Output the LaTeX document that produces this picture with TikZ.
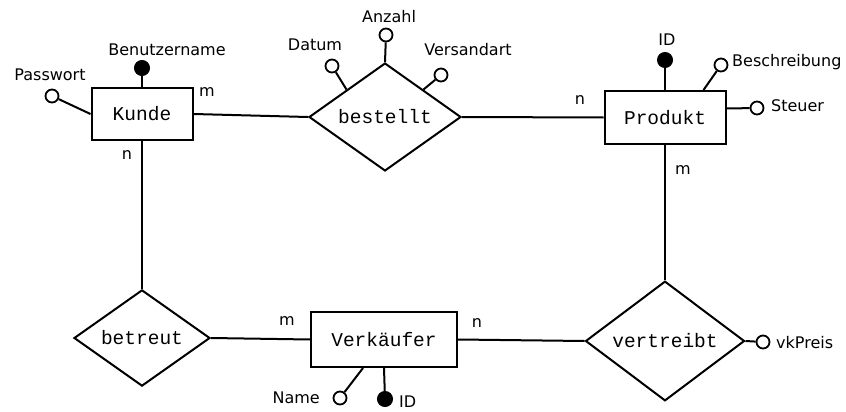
\documentclass[tikz,border=0pt]{standalone}
\usepackage{fontspec}
\setmainfont{DejaVu Sans}
\newfontfamily\ermono{Liberation Mono}
\usetikzlibrary{shapes.geometric}
\tikzset{
  entity/.style={draw, line width=2pt, rectangle, inner sep=0pt, font=\ermono\fontsize{19.5}{22}\selectfont},
  relation/.style={draw, line width=2pt, diamond, inner sep=0pt, font=\ermono\fontsize{19.5}{22}\selectfont},
  attr/.style={draw, line width=1.8pt, circle, fill=white, minimum size=13pt, inner sep=0pt},
  keyattr/.style={draw, line width=1pt, circle, fill=black, minimum size=15pt, inner sep=0pt},
  lbl/.style={font=\fontsize{16}{18}\selectfont, inner sep=0pt},
  card/.style={font=\fontsize{16}{18}\selectfont, inner sep=0pt},
  conn/.style={line width=2pt}
}
\begin{document}
\begin{tikzpicture}[x=1pt,y=-1pt]
\useasboundingbox (0,0) rectangle (846,412);
% entities
\node[entity, minimum width=101pt, minimum height=52pt] (kunde) at (142,114) {Kunde};
\node[entity, minimum width=121pt, minimum height=53pt] (produkt) at (665,117.5) {Produkt};
\node[entity, minimum width=146pt, minimum height=55pt] (verk) at (384,339.5) {Verkäufer};
% relations
\node[relation, minimum width=152pt, minimum height=90pt] (bestellt) at (385,117) {bestellt};
\node[relation, minimum width=136pt, minimum height=83pt] (betreut) at (142,338) {betreut};
\node[relation, minimum width=159pt, minimum height=97pt] (vertreibt) at (665,341) {vertreibt};
% connectors
\draw[conn] (kunde.east) -- (bestellt.west);
\draw[conn] (bestellt.east) -- (produkt.west);
\draw[conn] (kunde.south) -- (betreut.north);
\draw[conn] (produkt.south) -- (vertreibt.north);
\draw[conn] (betreut.east) -- (verk.west);
\draw[conn] (verk.east) -- (vertreibt.west);
% attributes
\node[attr] (passwort) at (52,96) {};
\node[keyattr] (benutzer) at (142,68) {};
\node[attr] (datum) at (332,66) {};
\node[attr] (anzahl) at (386,35) {};
\node[attr] (versand) at (441,75) {};
\node[keyattr] (pid) at (665,60) {};
\node[attr] (beschr) at (721,65) {};
\node[attr] (steuer) at (757,108) {};
\node[attr] (vkpreis) at (763,342) {};
\node[attr] (name) at (340,398) {};
\node[keyattr] (vid) at (385,399) {};
\coordinate (beschrAt) at ([xshift=-23pt]produkt.north east);
\coordinate (steuerAt) at ([yshift=9pt]produkt.east);
\coordinate (nameAt) at ([xshift=-21pt]verk.south);
\draw[conn] (passwort) -- (kunde.west);
\draw[conn] (benutzer) -- (kunde.north);
\draw[conn] (datum) -- (bestellt.north west);
\draw[conn] (anzahl) -- (bestellt.north);
\draw[conn] (versand) -- (bestellt.north east);
\draw[conn] (pid) -- (produkt.north);
\draw[conn] (beschr) -- (beschrAt);
\draw[conn] (steuer) -- (steuerAt);
\draw[conn] (vkpreis) -- (vertreibt.east);
\draw[conn] (name) -- (nameAt);
\draw[conn] (vid) -- (verk.south);
% attribute labels
\node[lbl] (lpass) at (50,75) {Passwort};
\node[lbl] (lben) at (167,50) {Benutzername};
\node[lbl] (ldat) at (315,45) {Datum};
\node[lbl] (lanz) at (389,17) {Anzahl};
\node[lbl] (lver) at (468,50) {Versandart};
\node[lbl] (lpid) at (667,40) {ID};
\node[lbl, anchor=west] (lbes) at (732,62) {Beschreibung};
\node[lbl, anchor=west] (lste) at (771,106) {Steuer};
\node[lbl, anchor=west] (lvk) at (776,343) {vkPreis};
\node[lbl, anchor=east] (lname) at (320,398) {Name};
\node[lbl, anchor=west] (lvid) at (399,402) {ID};
% cardinalities
\node[card] (c1) at (207,92) {m};
\node[card] (c2) at (127,155) {n};
\node[card] (c3) at (580,100) {n};
\node[card] (c4) at (683,170) {m};
\node[card] (c5) at (287,321) {m};
\node[card] (c6) at (477,323) {n};
\end{tikzpicture}
\end{document}
